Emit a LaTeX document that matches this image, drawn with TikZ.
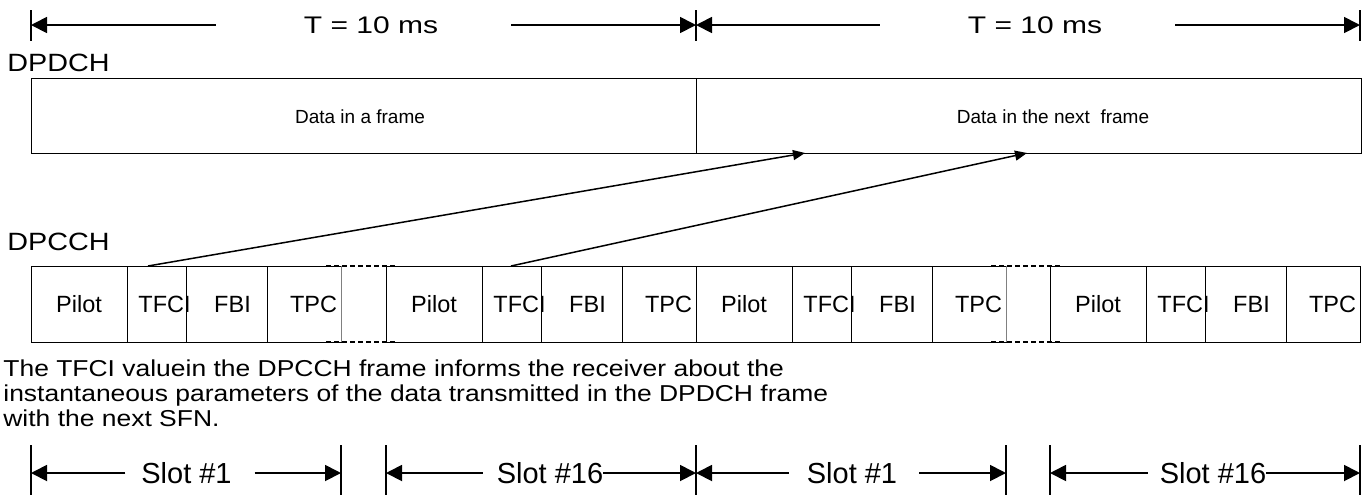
\documentclass[tikz,border=0pt]{standalone}
\usepackage{fontspec}
\setmainfont{Liberation Sans}
\newfontfamily\widesf[FakeStretch=1.15]{Liberation Sans}
\newfontfamily\widersf[FakeStretch=1.25]{Liberation Sans}
\usetikzlibrary{positioning, arrows.meta}
\begin{document}
\begin{tikzpicture}[x=0.5pt, y=-0.5pt, node distance=0pt,
      box/.style = {draw, line width=0.5pt, inner sep=0pt, outer sep=0pt, minimum height=38pt},
      celltext/.style = {inner sep=0pt, font=\fontsize{11.75}{14}\selectfont},
      datatext/.style = {inner sep=0pt, font=\fontsize{9.5}{11}\selectfont},
      chan/.style = {inner sep=0pt, anchor=base west, font=\widesf\fontsize{12.5}{14}\selectfont},
      period/.style = {inner sep=0pt, outer sep=0pt, font=\widersf\fontsize{12}{14}\selectfont},
      slotlabel/.style = {inner sep=0pt, outer sep=0pt, font=\fontsize{14.5}{16}\selectfont},
      tick/.style = {line width=0.9pt},
      dim/.style = {line width=0.9pt, -{Triangle[length=8pt, width=8pt]}},
      link/.style = {line width=0.75pt, -{Triangle[length=6pt, width=5pt]}},
      gapline/.style = {line width=0.75pt, dash pattern=on 2.5pt off 1.5pt}]

      \useasboundingbox (0,0) rectangle (1372,495);

      \foreach \i/\x in {0/31, 1/696, 2/1360} {
        \draw[tick] (\x,10) -- (\x,41);
        \coordinate (FrameTick_\i) at (\x,25);
      }
      \node[period] (Period_0) at (371,25) {T = 10 ms};
      \node[period] (Period_1) at (1035,25) {T = 10 ms};
      \foreach \i [evaluate=\i as \next using {int(\i+1)}] in {0, 1} {
        \draw[dim, shorten <=44pt] (Period_\i.west |- FrameTick_\i) -- (FrameTick_\i);
        \draw[dim, shorten <=36.5pt] (Period_\i.east |- FrameTick_\next) -- (FrameTick_\next);
      }

      \node[chan] (DPDCH) at (7,71) {DPDCH};
      \node[box, minimum width=332.5pt, minimum height=37.5pt, anchor=north west] (Frame_0) at (31,78) {};
      \node[box, minimum width=332.5pt, minimum height=37.5pt, right=of Frame_0] (Frame_1) {};
      \node[datatext] (Data_0) at (360,117) {Data in a frame};
      \node[datatext] (Data_1) at (1053,117) {Data in the next~ frame};

      \node[chan] (DPCCH) at (7,250) {DPCCH};
      \foreach \s/\x in {0/31, 1/386, 2/696, 3/1050} {
        \node[box, minimum width=48pt, anchor=north west] (Pilot_\s) at (\x,266) {};
        \node[box, minimum width=29.5pt, right=of Pilot_\s] (TFCI_\s) {};
        \node[box, minimum width=40.5pt, right=of TFCI_\s] (FBI_\s) {};
        \node[box, minimum width=37pt, right=of FBI_\s] (TPC_\s) {};
        \foreach \f/\dx in {Pilot/0, TFCI/4, FBI/3, TPC/4.75}
          \node[celltext, xshift=\dx pt] (\f Text_\s) at (\f_\s.center) {\f};
      }

      \foreach \s [evaluate=\s as \n using {int(\s+1)}] in {0, 2} {
        \draw[gray, line width=0.5pt] (TPC_\s.north east) -- (TPC_\s.south east);
        \draw[gapline] ([xshift=-7.5pt]TPC_\s.north east) -- ([xshift=6pt]Pilot_\n.north west);
        \draw[gapline] ([xshift=-7.5pt]TPC_\s.south east) -- ([xshift=6pt]Pilot_\n.south west);
      }

      \coordinate (Src_0) at ([xshift=10.5pt]TFCI_0.north west);
      \coordinate (Src_1) at ([xshift=14.5pt]TFCI_1.north west);
      \coordinate (Dst_0) at ([xshift=54.5pt]Frame_1.south west);
      \coordinate (Dst_1) at ([xshift=165.5pt]Frame_1.south west);
      \draw[link] (Src_0) -- (Dst_0);
      \draw[link] (Src_1) -- (Dst_1);

      \node[inner sep=0pt, anchor=north west, align=left, font=\widesf\fontsize{11.5}{12.7}\selectfont] (Note) at (3,359)
        {The TFCI valuein the DPCCH frame informs the receiver about the\\
         instantaneous parameters of the data transmitted in the DPDCH frame\\
         with the next SFN.};

      \foreach \i/\a/\b/\c/\t/\gl/\gr in {0/31/341/186.5/1/8/11.5, 1/386/696/550/16/7/0,
                                          2/696/1006/852/1/9/11, 3/1050/1360/1213/16/6/0} {
        \draw[tick] (\a,445) -- (\a,495);
        \draw[tick] (\b,445) -- (\b,495);
        \coordinate (SlotStart_\i) at (\a,473);
        \coordinate (SlotEnd_\i) at (\b,473);
        \node[slotlabel] (Slot_\i) at (\c,473) {Slot \#\t};
        \draw[dim, shorten <=\gl pt] (Slot_\i.west |- SlotStart_\i) -- (SlotStart_\i);
        \draw[dim, shorten <=\gr pt] (Slot_\i.east |- SlotEnd_\i) -- (SlotEnd_\i);
      }

\end{tikzpicture}
\end{document}
